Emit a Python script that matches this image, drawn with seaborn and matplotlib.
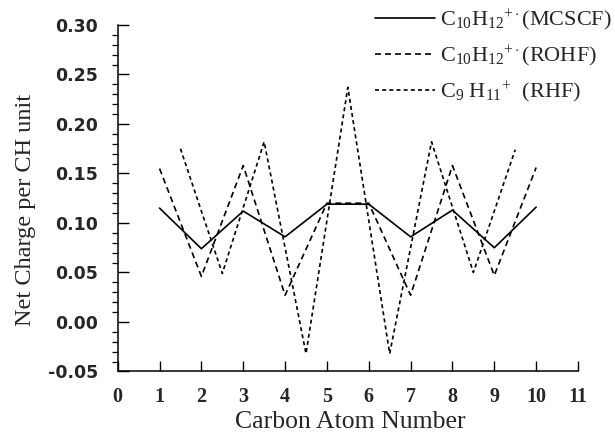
import matplotlib
matplotlib.use("Agg")
import matplotlib.pyplot as plt
import seaborn as sns
import pandas as pd
from matplotlib.ticker import MultipleLocator, FixedLocator

# ---- data ----
atoms_c10 = [1, 2, 3, 4, 5, 6, 7, 8, 9, 10]
mcscf = [0.115, 0.074, 0.112, 0.086, 0.119, 0.119, 0.086, 0.113, 0.075, 0.116]
rohf = [0.155, 0.046, 0.158, 0.027, 0.120, 0.120, 0.027, 0.158, 0.047, 0.156]
atoms_c9 = [1.5, 2.5, 3.5, 4.5, 5.5, 6.5, 7.5, 8.5, 9.5]
rhf = [0.175, 0.049, 0.182, -0.032, 0.237, -0.032, 0.182, 0.050, 0.174]

lab_mcscf = r'C$_{10}$H$_{12}$$^{+\cdot}$(MCSCF)'
lab_rohf = r'C$_{10}$H$_{12}$$^{+\cdot}$(ROHF)'
lab_rhf = r'C$_{9}$ H$_{11}$$^{+}$  (RHF)'

x_ticks = list(range(0, 12))
y_ticks = [-0.05, 0.00, 0.05, 0.10, 0.15, 0.20, 0.25, 0.30]

df = pd.concat([
    pd.DataFrame({'atom': atoms_c10, 'charge': mcscf, 'series': lab_mcscf}),
    pd.DataFrame({'atom': atoms_c10, 'charge': rohf, 'series': lab_rohf}),
    pd.DataFrame({'atom': atoms_c9, 'charge': rhf, 'series': lab_rhf}),
], ignore_index=True)

sns.set_theme(style="white")
plt.rcParams['font.family'] = ['Liberation Serif', 'DejaVu Serif']
plt.rcParams['mathtext.fontset'] = 'custom'
plt.rcParams['mathtext.rm'] = 'Liberation Serif'
plt.rcParams['mathtext.it'] = 'Liberation Serif:italic'
plt.rcParams['mathtext.bf'] = 'Liberation Serif:bold'

fig = plt.figure(figsize=(6.15, 4.37), dpi=100)
ax = fig.add_axes([0.1914, 0.150, 0.7484, 0.7928])

sns.lineplot(data=df, x='atom', y='charge', style='series',
             style_order=[lab_mcscf, lab_rohf, lab_rhf],
             dashes={lab_mcscf: '', lab_rohf: (3.6, 2.4), lab_rhf: (2.4, 1.9)},
             color='black', linewidth=1.2, ax=ax, sort=False)

ax.set_xlim(0, 11)
ax.set_ylim(-0.05, 0.30)
sns.despine(ax=ax)
for s in ['left', 'bottom']:
    ax.spines[s].set_color('black')
    ax.spines[s].set_linewidth(1.1)

ax.xaxis.set_major_locator(FixedLocator(x_ticks))
ax.set_xticklabels([str(t) for t in x_ticks], fontfamily='Liberation Serif',
                   fontweight='bold', fontsize=14.5)
ax.yaxis.set_major_locator(FixedLocator(y_ticks))
ax.set_yticklabels([f'{t:.2f}' for t in y_ticks], fontfamily='DejaVu Sans',
                   fontweight='bold', fontsize=12.5)
ax.yaxis.set_minor_locator(MultipleLocator(0.01))

ax.tick_params(axis='x', which='major', direction='in', length=7.5, width=1.0,
               color='black', pad=11, bottom=True)
ax.tick_params(axis='y', which='major', direction='in', length=8, width=1.0,
               color='black', pad=14, left=True)
ax.tick_params(axis='y', which='minor', direction='out', length=4.5, width=0.9,
               color='black', left=True)

ax.set_xlabel('Carbon Atom Number', fontsize=18.5, fontfamily='Liberation Serif')
ax.set_ylabel('Net Charge per CH unit', fontsize=17.5, fontfamily='Liberation Serif')
ax.xaxis.set_label_coords(0.505, -0.145)
ax.xaxis.label.set_va('center')
ax.yaxis.set_label_coords(-0.200, 0.466)
ax.yaxis.label.set_va('center')

handles, labels = ax.get_legend_handles_labels()
leg = ax.legend(handles, labels, loc='upper left', bbox_to_anchor=(0.610, 0.982),
                bbox_transform=fig.transFigure, frameon=False, fontsize=16,
                handlelength=2.7, handletextpad=0.2, labelspacing=0.48,
                borderaxespad=0, borderpad=0)
for line in leg.get_lines():
    line.set_linewidth(1.2)

fig.savefig('out.png', dpi=100)
